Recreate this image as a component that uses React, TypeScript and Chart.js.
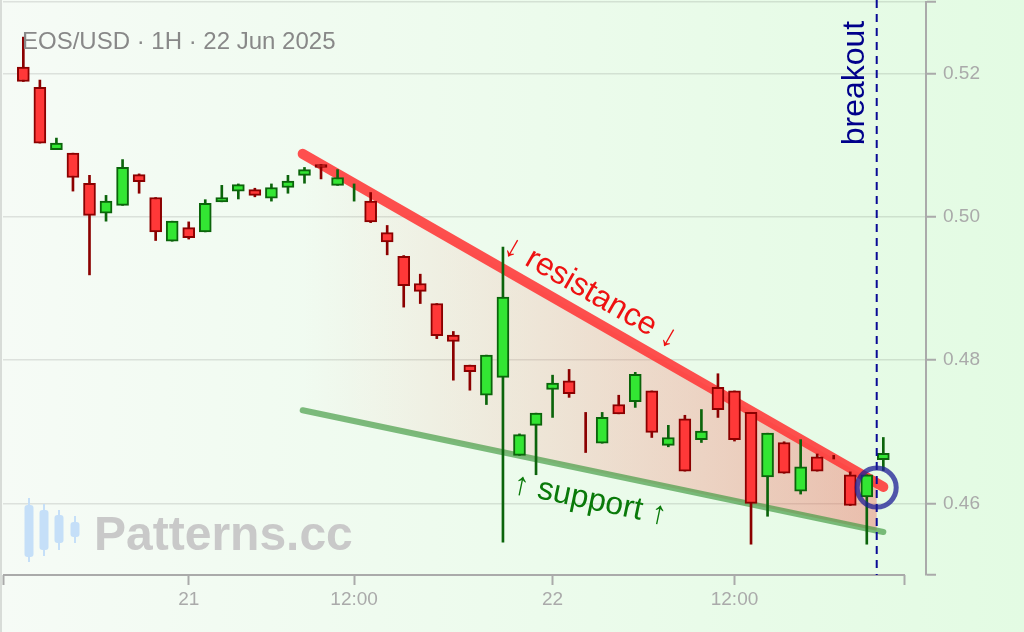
import { useEffect, useRef } from "react";
import { Chart, registerables } from "chart.js";

Chart.register(...registerables);

// EOS/USD 1H candles (index = hourly bar)
const opens = [
  0.5209, 0.5181, 0.5094, 0.5089, 0.5047, 0.5005, 0.5016, 0.5059, 0.5027, 0.4966,
  0.4985, 0.4979, 0.5021, 0.5036, 0.5038, 0.5026, 0.5041, 0.5058, 0.5073, 0.5044,
  0.5034, 0.5022, 0.4978, 0.4945, 0.4907, 0.4879, 0.4835, 0.4793, 0.4751, 0.4776,
  0.4667, 0.4709, 0.4759, 0.4771, 0.47, 0.4684, 0.4738, 0.4742, 0.4757, 0.4681,
  0.4718, 0.4689, 0.4762, 0.4757, 0.4727, 0.4637, 0.4685, 0.4617, 0.4665, 0.4665,
  0.464, 0.4609, 0.4661,
];
const highs = [
  0.5251, 0.5191, 0.511, 0.5089, 0.5058, 0.503, 0.508, 0.506, 0.5027, 0.4994,
  0.4993, 0.5024, 0.5044, 0.5046, 0.504, 0.5046, 0.5058, 0.5069, 0.5073, 0.5066,
  0.5046, 0.5034, 0.4988, 0.4946, 0.492, 0.4879, 0.484, 0.4793, 0.4807, 0.4958,
  0.4697, 0.4726, 0.4779, 0.4787, 0.4727, 0.4727, 0.4751, 0.4783, 0.4757, 0.4709,
  0.4723, 0.4731, 0.4781, 0.4757, 0.4727, 0.4698, 0.4686, 0.4689, 0.4669, 0.4667,
  0.4644, 0.464, 0.4692,
];
const lows = [
  0.5189, 0.5103, 0.5094, 0.5036, 0.4919, 0.4994, 0.5016, 0.5033, 0.4967, 0.4966,
  0.4969, 0.4979, 0.5021, 0.5025, 0.5028, 0.5022, 0.5033, 0.5047, 0.5053, 0.5044,
  0.5022, 0.4992, 0.4947, 0.4874, 0.4879, 0.483, 0.4772, 0.4758, 0.4738, 0.4546,
  0.4667, 0.464, 0.472, 0.4748, 0.4671, 0.4684, 0.4725, 0.4734, 0.4692, 0.4679,
  0.4645, 0.4685, 0.472, 0.4687, 0.4543, 0.4582, 0.4642, 0.4613, 0.4645, 0.4662,
  0.4597, 0.4543, 0.4646,
];
const closes = [
  0.5189, 0.5103, 0.5103, 0.5055, 0.5002, 0.5022, 0.5069, 0.5049, 0.4979, 0.4994,
  0.4971, 0.5019, 0.5027, 0.5045, 0.503, 0.5041, 0.505, 0.5066, 0.5069, 0.5055,
  0.50345, 0.4993, 0.4965, 0.4904, 0.4896, 0.4834, 0.4826, 0.4784, 0.4807, 0.4888,
  0.4696, 0.4726, 0.4768, 0.4753, 0.46995, 0.472, 0.4725, 0.478, 0.4699, 0.4692,
  0.4645, 0.4701, 0.4731, 0.4689, 0.46, 0.4698, 0.4642, 0.4651, 0.4645, 0.46645,
  0.4597, 0.464, 0.467,
];

const xTickPos = [10, 20, 32, 43];
const xTickText = ["21", "12:00", "22", "12:00"];
const yTickValues = [0.46, 0.48, 0.5, 0.52];

// pattern lines (bar index, price)
const resistance = [
  { x: 16.89, y: 0.5088 },
  { x: 52, y: 0.4623 },
];
const support = [
  { x: 16.89, y: 0.473 },
  { x: 52, y: 0.456 },
];
const breakoutIndex = 51.6;
const breakoutPrice = 0.4622;

const X_MIN = -1.23;
const X_END = 53.31;
const X_MAX = 54.58;
const Y_MIN = 0.45;
const Y_MAX = 0.53;

const GREEN = "#33e633";
const GREEN_DARK = "#0b640b";
const RED = "#ff3838";
const RED_DARK = "#8b0000";
const AXIS = "#aaaaaa";
const FONT = "'Liberation Sans', Arial, sans-serif";

function lineAt(line: { x: number; y: number }[], xv: number) {
  const [a, b] = line;
  return a.y + ((xv - a.x) / (b.x - a.x)) * (b.y - a.y);
}

const decor = {
  id: "decor",
  beforeDraw(chart: any) {
    const { ctx, width, height } = chart;
    ctx.save();
    const g = ctx.createLinearGradient(0, 0, width, 0);
    g.addColorStop(0, "#f6fbf6");
    g.addColorStop(1, "#e3fbe3");
    ctx.fillStyle = g;
    ctx.fillRect(0, 0, width, height);
    ctx.strokeStyle = "rgba(0,0,0,0.12)";
    ctx.lineWidth = 2;
    ctx.beginPath();
    ctx.moveTo(1, 0);
    ctx.lineTo(1, height);
    ctx.stroke();
    ctx.restore();
  },
  beforeDatasetsDraw(chart: any) {
    const { ctx, chartArea } = chart;
    const x = chart.scales.x;
    const y = chart.scales.y;
    ctx.save();

    // x axis line (ends before the price axis)
    ctx.strokeStyle = AXIS;
    ctx.lineWidth = 2;
    ctx.beginPath();
    ctx.moveTo(chartArea.left, chartArea.bottom);
    ctx.lineTo(x.getPixelForValue(X_END), chartArea.bottom);
    ctx.stroke();

    // watermark
    ctx.fillStyle = "#c5dff8";
    ctx.strokeStyle = "#c5dff8";
    ctx.lineWidth = 2;
    const icon = [
      [29, 505, 557, 498, 562],
      [44, 510, 550, 504, 556],
      [59, 515, 543, 510, 550],
      [75, 522, 537, 516, 543],
    ];
    icon.forEach(([cx, t, b, wt, wb]) => {
      ctx.beginPath();
      ctx.moveTo(cx, wt);
      ctx.lineTo(cx, wb);
      ctx.stroke();
      ctx.beginPath();
      ctx.roundRect(cx - 4.5, t, 9, b - t, 3);
      ctx.fill();
    });
    ctx.fillStyle = "#c9c9c9";
    ctx.font = `bold 48px ${FONT}`;
    ctx.textAlign = "left";
    ctx.textBaseline = "alphabetic";
    ctx.fillText("Patterns.cc", 94, 550);

    // wedge fill
    const x0 = resistance[0].x;
    const px0 = x.getPixelForValue(x0);
    const px1 = x.getPixelForValue(breakoutIndex);
    const grad = ctx.createLinearGradient(px0, 0, px1, 0);
    grad.addColorStop(0, "rgba(255,120,110,0)");
    grad.addColorStop(1, "rgba(240,80,70,0.36)");
    ctx.fillStyle = grad;
    ctx.beginPath();
    ctx.moveTo(px0, y.getPixelForValue(lineAt(resistance, x0)));
    ctx.lineTo(px1, y.getPixelForValue(lineAt(resistance, breakoutIndex)));
    ctx.lineTo(px1, y.getPixelForValue(lineAt(support, breakoutIndex)));
    ctx.lineTo(px0, y.getPixelForValue(lineAt(support, x0)));
    ctx.closePath();
    ctx.fill();
    ctx.restore();
  },
  afterDatasetsDraw(chart: any) {
    const { ctx, chartArea } = chart;
    const x = chart.scales.x;
    const y = chart.scales.y;
    const bx = x.getPixelForValue(breakoutIndex);
    ctx.save();

    // breakout marker
    ctx.strokeStyle = "#0a0a96";
    ctx.lineWidth = 2;
    ctx.setLineDash([8, 6]);
    ctx.beginPath();
    ctx.moveTo(bx, 0);
    ctx.lineTo(bx, chartArea.bottom);
    ctx.stroke();
    ctx.setLineDash([]);

    ctx.strokeStyle = "rgba(30,30,150,0.75)";
    ctx.lineWidth = 5;
    ctx.beginPath();
    ctx.arc(bx, y.getPixelForValue(breakoutPrice), 19.5, 0, Math.PI * 2);
    ctx.stroke();

    ctx.font = `32px ${FONT}`;
    ctx.textAlign = "center";
    ctx.textBaseline = "middle";

    ctx.save();
    ctx.translate(bx - 22, 83);
    ctx.rotate(-Math.PI / 2);
    ctx.fillStyle = "#00008b";
    ctx.fillText("breakout", 0, 0);
    ctx.restore();

    const along = (line: { x: number; y: number }[], t: number, off: number, text: string, color: string) => {
      const ax = x.getPixelForValue(line[0].x);
      const ay = y.getPixelForValue(line[0].y);
      const bxp = x.getPixelForValue(line[1].x);
      const byp = y.getPixelForValue(line[1].y);
      ctx.save();
      ctx.translate(ax + (bxp - ax) * t, ay + (byp - ay) * t);
      ctx.rotate(Math.atan2(byp - ay, bxp - ax));
      ctx.fillStyle = color;
      ctx.fillText(text, 0, off);
      ctx.restore();
    };
    along(resistance, 0.477, -23, "↓ resistance ↓", "#ee1111");
    along(support, 0.505, 29, "↑ support ↑", "#0a7a0a");

    // title
    ctx.fillStyle = "#888888";
    ctx.font = `24px ${FONT}`;
    ctx.textAlign = "left";
    ctx.textBaseline = "alphabetic";
    ctx.fillText("EOS/USD · 1H · 22 Jun 2025", 22, 49);
    ctx.restore();
  },
};

export default function App() {
  const chartRef = useRef<HTMLCanvasElement>(null);
  const chartInstance = useRef<Chart | null>(null);

  useEffect(() => {
    document.body.style.margin = "0";
    if (!chartRef.current) return;
    if (chartInstance.current) chartInstance.current.destroy();
    const ctx = chartRef.current.getContext("2d");
    if (!ctx) return;

    const idx = opens.map((_, i) => i);
    const up = idx.map((i) => closes[i] >= opens[i]);
    const doji = idx.map((i) => Math.abs(closes[i] - opens[i]) < 0.0001);

    chartInstance.current = new Chart(ctx, {
      type: "bar",
      data: {
        datasets: [
          {
            type: "bar",
            label: "wick",
            data: idx.map((i) => ({ x: i, y: [lows[i], highs[i]] })) as any,
            backgroundColor: up.map((u) => (u ? GREEN_DARK : RED_DARK)),
            barThickness: 2,
            grouped: false,
            order: 1,
          },
          {
            type: "bar",
            label: "body",
            data: idx.map((i) => ({ x: i, y: [opens[i], closes[i]] })) as any,
            backgroundColor: idx.map((i) => (doji[i] ? "rgba(0,0,0,0)" : up[i] ? GREEN : RED)),
            borderColor: idx.map((i) => (doji[i] ? "rgba(0,0,0,0)" : up[i] ? GREEN_DARK : RED_DARK)),
            borderWidth: 2,
            borderSkipped: false,
            barThickness: 12,
            grouped: false,
            order: 0,
          },
          {
            type: "line",
            label: "resistance",
            data: resistance as any,
            borderColor: "rgba(255,55,55,0.88)",
            borderWidth: 10,
            borderCapStyle: "round",
            pointRadius: 0,
            order: 3,
          },
          {
            type: "line",
            label: "support",
            data: support as any,
            borderColor: "rgba(60,150,60,0.65)",
            borderWidth: 6,
            borderCapStyle: "round",
            pointRadius: 0,
            order: 3,
          },
        ],
      },
      options: {
        responsive: true,
        maintainAspectRatio: false,
        animation: false,
        events: [],
        layout: { padding: { left: 3, top: 2, right: 0, bottom: 0 } },
        plugins: {
          legend: { display: false },
          tooltip: { enabled: false },
        },
        scales: {
          x: {
            type: "linear",
            min: X_MIN,
            max: X_MAX,
            offset: false,
            afterBuildTicks: (axis: any) => {
              axis.ticks = [X_MIN, ...xTickPos, X_END].map((v) => ({ value: v }));
            },
            afterFit: (axis: any) => {
              axis.height = 57;
              axis.paddingLeft = 0;
              axis.paddingRight = 0;
            },
            border: { display: false },
            grid: {
              offset: false,
              drawOnChartArea: false,
              drawTicks: true,
              tickLength: 10,
              tickColor: AXIS,
              tickWidth: 2,
            },
            ticks: {
              autoSkip: false,
              maxRotation: 0,
              padding: 3,
              color: AXIS,
              font: { size: 19 },
              callback: (v: any) => {
                const k = xTickPos.indexOf(v);
                return k >= 0 ? xTickText[k] : "";
              },
            },
          },
          y: {
            position: "right",
            min: Y_MIN,
            max: Y_MAX,
            afterBuildTicks: (axis: any) => {
              axis.ticks = [Y_MIN, ...yTickValues, Y_MAX].map((v) => ({ value: v }));
            },
            afterFit: (axis: any) => {
              axis.width = 98;
              axis.paddingTop = 0;
              axis.paddingBottom = 0;
            },
            border: { display: true, color: AXIS, width: 2 },
            grid: {
              color: (c: any) => (c.tick && c.tick.value === Y_MIN ? "rgba(0,0,0,0)" : "rgba(0,0,0,0.1)"),
              lineWidth: 1.5,
              tickColor: AXIS,
              tickLength: 10,
              tickWidth: 2,
            },
            ticks: {
              padding: 7,
              color: AXIS,
              font: { size: 19 },
              callback: (v: any) => (yTickValues.includes(v) ? Number(v).toFixed(2) : ""),
            },
          },
        },
      },
      plugins: [decor],
    });

    return () => {
      if (chartInstance.current) {
        chartInstance.current.destroy();
        chartInstance.current = null;
      }
    };
  }, []);

  return (
    <div style={{ position: "relative", width: 1024, height: 632 }}>
      <canvas ref={chartRef} />
    </div>
  );
}
